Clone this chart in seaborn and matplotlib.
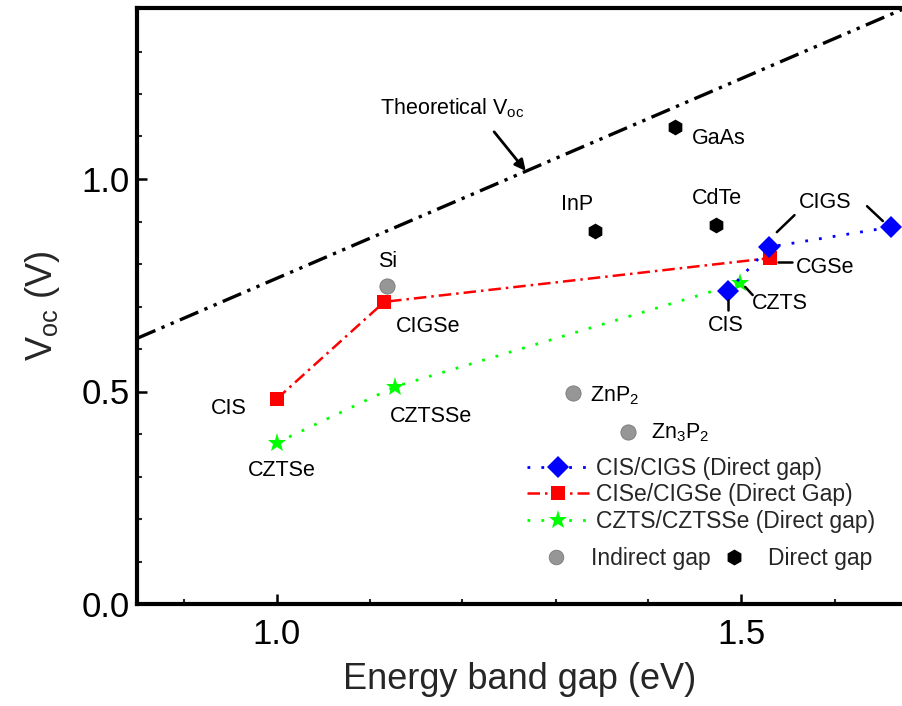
import matplotlib
matplotlib.use("Agg")
import matplotlib.pyplot as plt
from matplotlib.lines import Line2D
import seaborn as sns
import pandas as pd

# ---- data ----
cigs_x = [1.485, 1.530, 1.661]
cigs_y = [0.736, 0.840, 0.887]

cigse_x = [1.000, 1.116, 1.531]
cigse_y = [0.482, 0.711, 0.814]

czts_x = [1.000, 1.127, 1.498]
czts_y = [0.379, 0.511, 0.755]

indirect_names = ["Si", "ZnP2", "Zn3P2"]
indirect_x = [1.119, 1.319, 1.378]
indirect_y = [0.748, 0.496, 0.405]

direct_names = ["InP", "CdTe", "GaAs"]
direct_x = [1.343, 1.473, 1.429]
direct_y = [0.878, 0.892, 1.122]

theo_x = [0.85, 1.675]
theo_y = [0.625, 1.401]

x_ticks = [1.0, 1.5]
y_ticks = [0.0, 0.5, 1.0]

# ---- style ----
sns.set_style("ticks")
plt.rcParams["font.family"] = ["Liberation Sans", "DejaVu Sans"]
plt.rcParams["mathtext.default"] = "regular"

fig = plt.figure(figsize=(9.02, 7.06), dpi=100)
ax = fig.add_axes([137 / 902, 1 - 604 / 706, 765 / 902, 596 / 706])

# theoretical line
sns.lineplot(x=theo_x, y=theo_y, ax=ax, sort=False, color="black", lw=2.4,
             linestyle=(0, (6, 2, 1, 2, 1, 2)), zorder=2)

# series
sns.lineplot(x=cigse_x, y=cigse_y, ax=ax, sort=False, color="red", lw=1.8,
             linestyle=(0, (5, 2, 1, 2)), marker="s", markersize=10,
             markeredgewidth=0, zorder=3)
sns.lineplot(x=czts_x, y=czts_y, ax=ax, sort=False, color="#00ff00", lw=2.0,
             linestyle=(0, (1, 4)), marker="*", markersize=14,
             markeredgewidth=0, zorder=3)
sns.lineplot(x=cigs_x, y=cigs_y, ax=ax, sort=False, color="blue", lw=2.0,
             linestyle=(0, (1, 4)), marker="D", markersize=11,
             markeredgewidth=0, zorder=4)

ind_df = pd.DataFrame({"x": indirect_x, "y": indirect_y})
dir_df = pd.DataFrame({"x": direct_x, "y": direct_y})
sns.scatterplot(data=ind_df, x="x", y="y", ax=ax, color="#969696", s=120,
                edgecolor="#7a7a7a", linewidth=0.6, zorder=3)
sns.scatterplot(data=dir_df, x="x", y="y", ax=ax, color="black", s=130,
                marker="h", linewidth=0, zorder=3)

ax.set_xlim(0.85, 0.85 + 765 / 930)
ax.set_ylim(0, 596 / 425)
ax.set_xticks(x_ticks)
ax.set_yticks(y_ticks)
ax.set_xticklabels([f"{v:.1f}" for v in x_ticks])
ax.set_yticklabels([f"{v:.1f}" for v in y_ticks])
ax.set_xticks([0.9, 1.1, 1.2, 1.3, 1.4, 1.6], minor=True)
ax.set_yticks([0.1, 0.2, 0.3, 0.4, 0.6, 0.7, 0.8, 0.9, 1.1, 1.2, 1.3], minor=True)
ax.tick_params(which="major", direction="in", length=7, width=1.8,
               labelsize=25, colors="black")
ax.tick_params(which="minor", direction="in", length=3.5, width=1.5)
ax.tick_params(axis="x", which="major", pad=10)
ax.tick_params(axis="y", which="major", pad=5)
for side in ["left", "bottom", "top"]:
    ax.spines[side].set_linewidth(3)
    ax.spines[side].set_color("black")
ax.spines["right"].set_visible(False)

ax.set_xlabel("Energy band gap (eV)", fontsize=26, labelpad=8)
ax.set_ylabel("V$_{oc}$ (V)", fontsize=26, labelpad=14)

# ---- annotations ----
fs = 15.5
texts = [
    ("Theoretical V$_{oc}$", 1.111, 1.167, "left"),
    ("GaAs", 1.447, 1.096, "left"),
    ("InP", 1.323, 0.939, "center"),
    ("CdTe", 1.474, 0.955, "center"),
    ("CIGS", 1.590, 0.944, "center"),
    ("CGSe", 1.559, 0.791, "left"),
    ("CZTS", 1.511, 0.708, "left"),
    ("CIS", 1.483, 0.656, "center"),
    ("Si", 1.119, 0.805, "center"),
    ("CIGSe", 1.128, 0.654, "left"),
    ("CIS", 0.949, 0.461, "center"),
    ("CZTSSe", 1.122, 0.440, "left"),
    ("CZTSe", 1.006, 0.315, "center"),
    ("ZnP$_2$", 1.337, 0.490, "left"),
    ("Zn$_3$P$_2$", 1.403, 0.403, "left"),
]
for t, x, y, ha in texts:
    ax.text(x, y, t, fontsize=fs, ha=ha, va="center", color="black", zorder=5)

leaders = [
    ((1.538, 0.875), (1.557, 0.915)),
    ((1.635, 0.936), (1.652, 0.901)),
    ((1.539, 0.805), (1.554, 0.805)),
    ((1.504, 0.746), (1.512, 0.727)),
    ((1.485, 0.715), (1.485, 0.692)),
]
for (x0, y0), (x1, y1) in leaders:
    ax.plot([x0, x1], [y0, y1], color="black", lw=1.8, zorder=5)

ax.annotate("", xy=(1.268, 1.019), xytext=(1.234, 1.111),
            arrowprops=dict(arrowstyle="-|>", lw=2, color="black",
                            mutation_scale=16, shrinkA=0, shrinkB=0))

# ---- legends ----
h1 = Line2D([], [], color="blue", lw=2.0, linestyle=(0, (1, 4)), marker="D",
            markersize=11, markeredgewidth=0)
h2 = Line2D([], [], color="red", lw=1.8, linestyle=(0, (5, 2, 1, 2)), marker="s",
            markersize=10, markeredgewidth=0)
h3 = Line2D([], [], color="#00ff00", lw=2.0, linestyle=(0, (1, 4)), marker="*",
            markersize=14, markeredgewidth=0)
leg1 = ax.legend([h1, h2, h3],
                 ["CIS/CIGS (Direct gap)", "CISe/CIGSe (Direct Gap)",
                  "CZTS/CZTSSe (Direct gap)"],
                 loc="upper left", bbox_to_anchor=(527 / 902, 1 - 457 / 706),
                 bbox_transform=fig.transFigure, frameon=False, fontsize=16.5,
                 handlelength=2.7, handletextpad=0.3, labelspacing=0.15,
                 borderpad=0, borderaxespad=0)
ax.add_artist(leg1)

h4 = Line2D([], [], color="#969696", lw=0, marker="o", markersize=10.5,
            markeredgecolor="#7a7a7a", markeredgewidth=0.6)
h5 = Line2D([], [], color="black", lw=0, marker="h", markersize=11.5,
            markeredgewidth=0)
ax.legend([h4, h5], ["Indirect gap", "Direct gap"], ncol=2,
          loc="upper left", bbox_to_anchor=(545 / 902, 1 - 547 / 706),
          bbox_transform=fig.transFigure, frameon=False, fontsize=16.5,
          handlelength=1.0, handletextpad=1.0, columnspacing=0.5,
          borderpad=0, borderaxespad=0)

fig.savefig("out.png", dpi=100)
